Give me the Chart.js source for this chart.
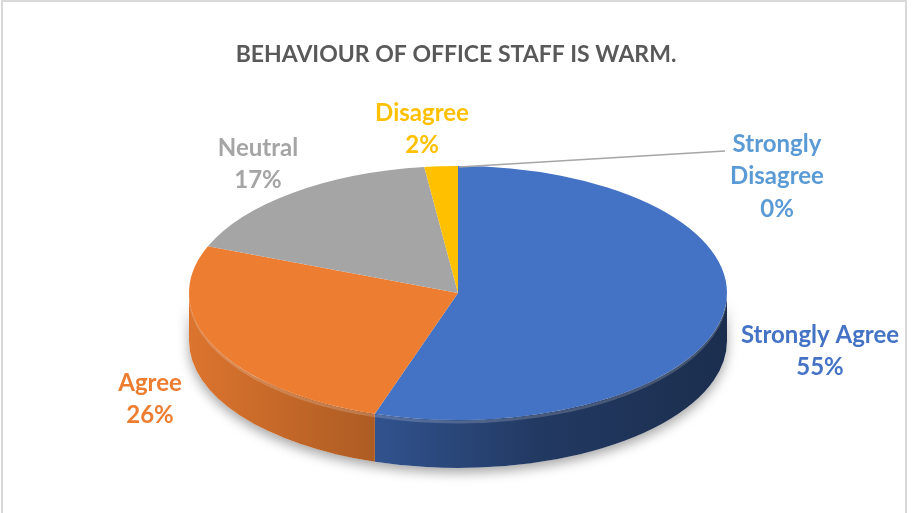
<!DOCTYPE html>
<html>
<head>
<meta charset="utf-8">
<script src="https://cdn.jsdelivr.net/npm/chart.js@4.4.1/dist/chart.umd.min.js"></script>
<style>
  html, body { margin: 0; padding: 0; background: #fff; }
  #wrap { position: relative; width: 912px; height: 513px; }
</style>
</head>
<body>
<div id="wrap"><canvas id="pie" width="912" height="513"></canvas></div>
<script>
// data
const categories = ['Strongly Agree', 'Agree', 'Neutral', 'Disagree', 'Strongly Disagree'];
const percentages = [55, 26, 17, 2, 0];
const sliceColors = ['#4472C4', '#ED7D31', '#A5A5A5', '#FFC000', '#5B9BD5'];
const chartTitle = 'BEHAVIOUR OF OFFICE STAFF IS WARM.';

// where the flattened pie sits on screen
const PIE = { cx: 458, cy: 293, rx: 269, ry: 127, depth: 48 };

// label anchors (centre of first line), excel style
const labelSpots = [
    { x: 820, y: 335, lines: 1 },
    { x: 150, y: 383, lines: 1 },
    { x: 258, y: 148, lines: 1 },
    { x: 422, y: 113, lines: 1 },
    { x: 777, y: 144, lines: 2 }
];

function shade(hex, f) {
    const n = parseInt(hex.slice(1), 16);
    const r = Math.round(((n >> 16) & 255) * f);
    const g = Math.round(((n >> 8) & 255) * f);
    const b = Math.round((n & 255) * f);
    return `rgb(${r},${g},${b})`;
}

const pie3d = {
    id: 'pie3d',
    beforeDraw(chart) {
        const ctx = chart.ctx;
        ctx.save();
        ctx.strokeStyle = '#d9d9d9';
        ctx.lineWidth = 2;
        ctx.strokeRect(2, 1, 904, 530);
        ctx.restore();
    },
    beforeDatasetsDraw(chart) {
        const ctx = chart.ctx;
        const arcs = chart.getDatasetMeta(0).data;
        const { cx, cy, rx, ry, depth } = PIE;

        // shadow under the disc
        ctx.save();
        ctx.shadowColor = 'rgba(0,0,0,0.35)';
        ctx.shadowBlur = 12;
        ctx.shadowOffsetY = 5;
        ctx.fillStyle = '#fff';
        ctx.beginPath();
        ctx.ellipse(cx, cy, rx, ry, 0, 0, Math.PI);
        ctx.ellipse(cx, cy + depth, rx, ry, 0, Math.PI, 0, true);
        ctx.closePath();
        ctx.fill();
        ctx.restore();

        // front wall of every slice that faces the viewer
        arcs.forEach((arc, i) => {
            const { startAngle, endAngle } = arc.getProps(['startAngle', 'endAngle'], true);
            [0, 2 * Math.PI].forEach(off => {
                const a = Math.max(startAngle, off);
                const b = Math.min(endAngle, off + Math.PI);
                if (b <= a) return;
                const base = sliceColors[i];
                const grad = ctx.createLinearGradient(cx - rx, 0, cx + rx, 0);
                grad.addColorStop(0, shade(base, 0.93));
                grad.addColorStop(0.33, shade(base, 0.74));
                grad.addColorStop(0.65, shade(base, 0.5));
                grad.addColorStop(1, shade(base, 0.4));
                ctx.save();
                ctx.fillStyle = grad;
                ctx.beginPath();
                ctx.ellipse(cx, cy, rx, ry, 0, a, b);
                ctx.ellipse(cx, cy + depth, rx, ry, 0, b, a, true);
                ctx.closePath();
                ctx.fill();
                // soft bevel highlight on the rim
                ctx.strokeStyle = 'rgba(255,255,255,0.18)';
                ctx.lineWidth = 3;
                ctx.beginPath();
                ctx.ellipse(cx, cy + 2, rx - 1, ry, 0, a, b);
                ctx.stroke();
                ctx.restore();
            });
        });

        // squash the library's round pie into the top face
        const first = arcs[0].getProps(['x', 'y', 'outerRadius'], true);
        ctx.save();
        ctx.translate(cx, cy);
        ctx.scale(rx / first.outerRadius, ry / first.outerRadius);
        ctx.translate(-first.x, -first.y);
    },
    afterDatasetsDraw(chart) {
        chart.ctx.restore();
    },
    afterDraw(chart) {
        const ctx = chart.ctx;
        ctx.save();
        // leader line for the 0% slice
        ctx.strokeStyle = '#a6a6a6';
        ctx.lineWidth = 1.3;
        ctx.beginPath();
        ctx.moveTo(459, 167);
        ctx.lineTo(725, 151);
        ctx.stroke();

        ctx.font = 'bold 24px Lato';
        ctx.textAlign = 'center';
        ctx.textBaseline = 'middle';
        categories.forEach((name, i) => {
            const spot = labelSpots[i];
            const lines = spot.lines === 2 ? name.split(' ') : [name];
            lines.push(percentages[i] + '%');
            ctx.fillStyle = sliceColors[i];
            lines.forEach((t, k) => ctx.fillText(t, spot.x, spot.y + k * 32.5));
        });
        ctx.restore();
    }
};

new Chart(document.getElementById('pie'), {
    type: 'pie',
    data: {
        labels: categories,
        datasets: [{
            data: percentages,
            backgroundColor: sliceColors,
            borderWidth: 0
        }]
    },
    options: {
        responsive: false,
        animation: false,
        devicePixelRatio: 1,
        rotation: 0,
        layout: { padding: { top: 10, bottom: 40 } },
        plugins: {
            legend: { display: false },
            tooltip: { enabled: false },
            title: {
                display: true,
                text: chartTitle,
                color: '#595959',
                font: { family: 'Lato', size: 23, weight: 'bold' },
                padding: { top: 31, bottom: 20 }
            }
        }
    },
    plugins: [pie3d]
});
</script>
</body>
</html>
